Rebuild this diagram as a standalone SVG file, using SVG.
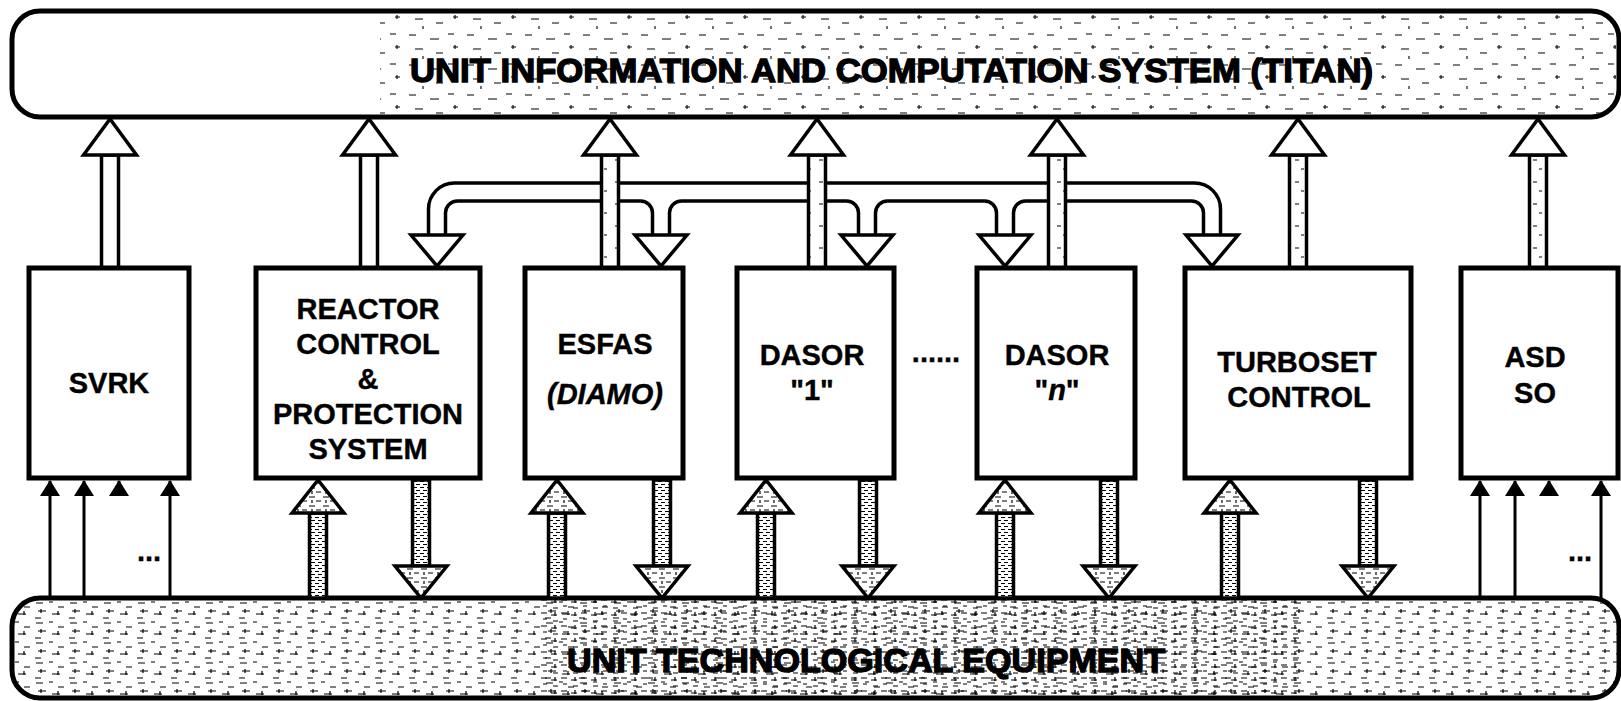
<svg xmlns="http://www.w3.org/2000/svg" width="1621" height="701" viewBox="0 0 1621 701">
<defs>
<style>
.frame{fill:none;stroke:#000;stroke-width:5}
.box{fill:#fff;stroke:#000;stroke-width:5}
.ln{fill:none;stroke:#000;stroke-width:3.5}
.hw{fill:#fff;stroke:#000;stroke-width:3.5;stroke-linejoin:miter}
.ht{fill:url(#nzT);stroke:#000;stroke-width:3.5}
.hs{fill:url(#nzC);stroke:#000;stroke-width:3.5}
.hh{fill:url(#nzH);stroke:#000;stroke-width:3.5;stroke-linejoin:miter}
.thin{stroke:#000;stroke-width:3}
.lbl{font-family:"Liberation Sans",Arial,Helvetica,sans-serif;font-weight:700;font-size:29px;text-anchor:middle;fill:#000;stroke:#000;stroke-width:0.4}
.ttl{font-family:"Liberation Sans",Arial,Helvetica,sans-serif;font-weight:700;font-size:34px;fill:#000;stroke:#000;stroke-width:1.4}
</style>
<marker id="tip" viewBox="0 -10 16 20" refX="15" refY="0" markerWidth="16" markerHeight="20" markerUnits="userSpaceOnUse" orient="auto">
<path d="M0 -10 L16 0 L0 10 Z" fill="#000"/>
</marker>
<pattern id="nzA" width="58" height="30" patternUnits="userSpaceOnUse">
<path d="M3 5h7M24 9h9M42 4h6M9 19h8M30 23h7M49 15v4M47 17h5M17 26v3" stroke="#000" stroke-width="1.1" fill="none"/>
</pattern>
<pattern id="nzB" width="34" height="20" patternUnits="userSpaceOnUse">
<path d="M2 3h7M15 2h4M24 7h6M4 11h8M7 9v4M18 14h8M1 18h6M24 11v4" stroke="#000" stroke-width="1.2" fill="none"/>
</pattern>
<pattern id="nzD" width="20" height="13" patternUnits="userSpaceOnUse">
<path d="M1 2h6M11 4h6M3 8h4M13 10h5M15 1v4" stroke="#000" stroke-width="1.2" fill="none"/>
</pattern>
<pattern id="nzC" width="7" height="6" patternUnits="userSpaceOnUse">
<rect width="7" height="6" fill="#fff"/>
<path d="M0 1.5h4M3 4.5h4" stroke="#000" stroke-width="1.2"/>
</pattern>
<pattern id="nzH" width="14" height="9" patternUnits="userSpaceOnUse">
<rect width="14" height="9" fill="#fff"/>
<path d="M1 2h6M8 6h5M4 5v3" stroke="#000" stroke-width="1.2"/>
</pattern>
<pattern id="nzT" width="17" height="22" patternUnits="userSpaceOnUse">
<rect width="17" height="22" fill="#fff"/>
<path d="M3 6h4M9 15h3" stroke="#000" stroke-width="1.2"/>
</pattern>
<clipPath id="cTop"><rect x="14" y="13" width="1603" height="102" rx="26"/></clipPath>
<clipPath id="cBot"><rect x="14" y="600" width="1603" height="97" rx="26"/></clipPath>
</defs>

<rect width="1621" height="701" fill="#fff"/>

<g id="unit-information-system">
<rect x="12" y="11" width="1607" height="106" rx="28" fill="#fff"/>
<g clip-path="url(#cTop)">
<rect x="380" y="14" width="1236" height="100" fill="url(#nzA)"/>
</g>
<rect x="12" y="11" width="1607" height="106" rx="28" class="frame"/>
<text class="ttl" x="410" y="82" textLength="963" lengthAdjust="spacingAndGlyphs">UNIT INFORMATION AND COMPUTATION SYSTEM (TITAN)</text>
</g>

<g id="unit-technological-equipment">
<rect x="12" y="598" width="1607" height="100" rx="28" fill="#fff"/>
<g clip-path="url(#cBot)">
<rect x="12" y="598" width="1607" height="100" fill="url(#nzB)"/>
<rect x="540" y="598" width="760" height="100" fill="url(#nzD)"/>
</g>
<rect x="12" y="598" width="1607" height="100" rx="28" class="frame"/>
<text class="ttl" x="567" y="672" textLength="598" lengthAdjust="spacingAndGlyphs">UNIT TECHNOLOGICAL EQUIPMENT</text>
</g>

<g id="connectors">
<!-- horizontal exchange bus -->
<path class="ln" d="M428.5 235 V209 A26 26 0 0 1 454.5 183 H1194.5 A26 26 0 0 1 1220.5 209 V235"/>
<path class="ln" d="M445.5 235 V213 A12 12 0 0 1 457.5 201 H640.5 A12 12 0 0 1 652.5 213 V235"/>
<path class="ln" d="M669.5 235 V213 A12 12 0 0 1 681.5 201 H846.5 A12 12 0 0 1 858.5 213 V235"/>
<path class="ln" d="M875.5 235 V213 A12 12 0 0 1 887.5 201 H984.5 A12 12 0 0 1 996.5 213 V235"/>
<path class="ln" d="M1013.5 235 V213 A12 12 0 0 1 1025.5 201 H1191.5 A12 12 0 0 1 1203.5 213 V235"/>
<polygon class="hw" points="411,235 463,235 437,266"/>
<polygon class="hw" points="635,235 687,235 661,266"/>
<polygon class="hw" points="841,235 893,235 867,266"/>
<polygon class="hw" points="979,235 1031,235 1005,266"/>
<polygon class="hw" points="1186,235 1238,235 1212,266"/>

<!-- up arrows to the information system -->
<rect class="hw" x="101.5" y="155" width="17" height="113"/>
<polygon class="hw" points="83.5,155 110,119 136.5,155"/>
<rect class="hw" x="360.5" y="155" width="17" height="113"/>
<polygon class="hw" points="342.5,155 369,119 395.5,155"/>
<rect class="ht" x="601.5" y="155" width="17" height="113"/>
<polygon class="hw" points="583.5,155 610,119 636.5,155"/>
<rect class="ht" x="808.5" y="155" width="17" height="113"/>
<polygon class="hw" points="790.5,155 817,119 843.5,155"/>
<rect class="ht" x="1048.5" y="155" width="17" height="113"/>
<polygon class="hw" points="1030.5,155 1057,119 1083.5,155"/>
<rect class="ht" x="1289.5" y="155" width="17" height="113"/>
<polygon class="hw" points="1271.5,155 1298,119 1324.5,155"/>
<rect class="ht" x="1529.5" y="155" width="17" height="113"/>
<polygon class="hw" points="1511.5,155 1538,119 1564.5,155"/>

<!-- signals from equipment (up) -->
<rect class="hs" x="309.5" y="513" width="17" height="85"/>
<polygon class="hh" points="292,513 318,480 344,513"/>
<rect class="hs" x="548.5" y="513" width="17" height="85"/>
<polygon class="hh" points="531,513 557,480 583,513"/>
<rect class="hs" x="757.5" y="513" width="17" height="85"/>
<polygon class="hh" points="740,513 766,480 792,513"/>
<rect class="hs" x="996.5" y="513" width="17" height="85"/>
<polygon class="hh" points="979,513 1005,480 1031,513"/>
<rect class="hs" x="1221.5" y="513" width="17" height="85"/>
<polygon class="hh" points="1204,513 1230,480 1256,513"/>

<!-- commands to equipment (down) -->
<rect class="hs" x="412.5" y="480" width="17" height="86"/>
<polygon class="hh" points="395,566 447,566 421,598"/>
<rect class="hs" x="653.5" y="480" width="17" height="86"/>
<polygon class="hh" points="636,566 688,566 662,598"/>
<rect class="hs" x="859.5" y="480" width="17" height="86"/>
<polygon class="hh" points="842,566 894,566 868,598"/>
<rect class="hs" x="1100.5" y="480" width="17" height="86"/>
<polygon class="hh" points="1083,566 1135,566 1109,598"/>
<rect class="hs" x="1359.5" y="480" width="17" height="86"/>
<polygon class="hh" points="1342,566 1394,566 1368,598"/>

<!-- thin sensor lines -->
<line class="thin" x1="50" y1="598" x2="50" y2="481" marker-end="url(#tip)"/>
<line class="thin" x1="84" y1="598" x2="84" y2="481" marker-end="url(#tip)"/>
<line class="thin" x1="119" y1="495" x2="119" y2="481" marker-end="url(#tip)"/>
<line class="thin" x1="170" y1="598" x2="170" y2="481" marker-end="url(#tip)"/>
<line class="thin" x1="1480" y1="598" x2="1480" y2="481" marker-end="url(#tip)"/>
<line class="thin" x1="1515" y1="598" x2="1515" y2="481" marker-end="url(#tip)"/>
<line class="thin" x1="1549" y1="495" x2="1549" y2="481" marker-end="url(#tip)"/>
<line class="thin" x1="1601" y1="598" x2="1601" y2="481" marker-end="url(#tip)"/>
<text class="lbl" x="149" y="561">...</text>
<text class="lbl" x="1580" y="561">...</text>
</g>

<g id="svrk">
<rect class="box" x="29" y="268" width="160" height="210"/>
<text class="lbl" x="109" y="393">SVRK</text>
</g>

<g id="reactor-control">
<rect class="box" x="256" y="268" width="224" height="210"/>
<text class="lbl" x="368" y="319">REACTOR</text>
<text class="lbl" x="368" y="354">CONTROL</text>
<text class="lbl" x="368" y="389">&amp;</text>
<text class="lbl" x="368" y="424">PROTECTION</text>
<text class="lbl" x="368" y="459">SYSTEM</text>
</g>

<g id="esfas">
<rect class="box" x="525" y="268" width="158" height="210"/>
<text class="lbl" x="605" y="354">ESFAS</text>
<text class="lbl" x="605" y="404" font-style="italic">(DIAMO)</text>
</g>

<g id="dasor-1">
<rect class="box" x="737" y="268" width="157" height="210"/>
<text class="lbl" x="812" y="365">DASOR</text>
<text class="lbl" x="812" y="400">"1"</text>
</g>

<text class="lbl" x="936" y="362">......</text>

<g id="dasor-n">
<rect class="box" x="977" y="268" width="158" height="210"/>
<text class="lbl" x="1057" y="365">DASOR</text>
<text class="lbl" x="1057" y="400">"<tspan font-style="italic">n</tspan>"</text>
</g>

<g id="turboset-control">
<rect class="box" x="1185" y="268" width="226" height="210"/>
<text class="lbl" x="1297" y="372">TURBOSET</text>
<text class="lbl" x="1299" y="407">CONTROL</text>
</g>

<g id="asd-so">
<rect class="box" x="1461" y="268" width="157" height="210"/>
<text class="lbl" x="1535" y="367">ASD</text>
<text class="lbl" x="1535" y="403">SO</text>
</g>
</svg>
